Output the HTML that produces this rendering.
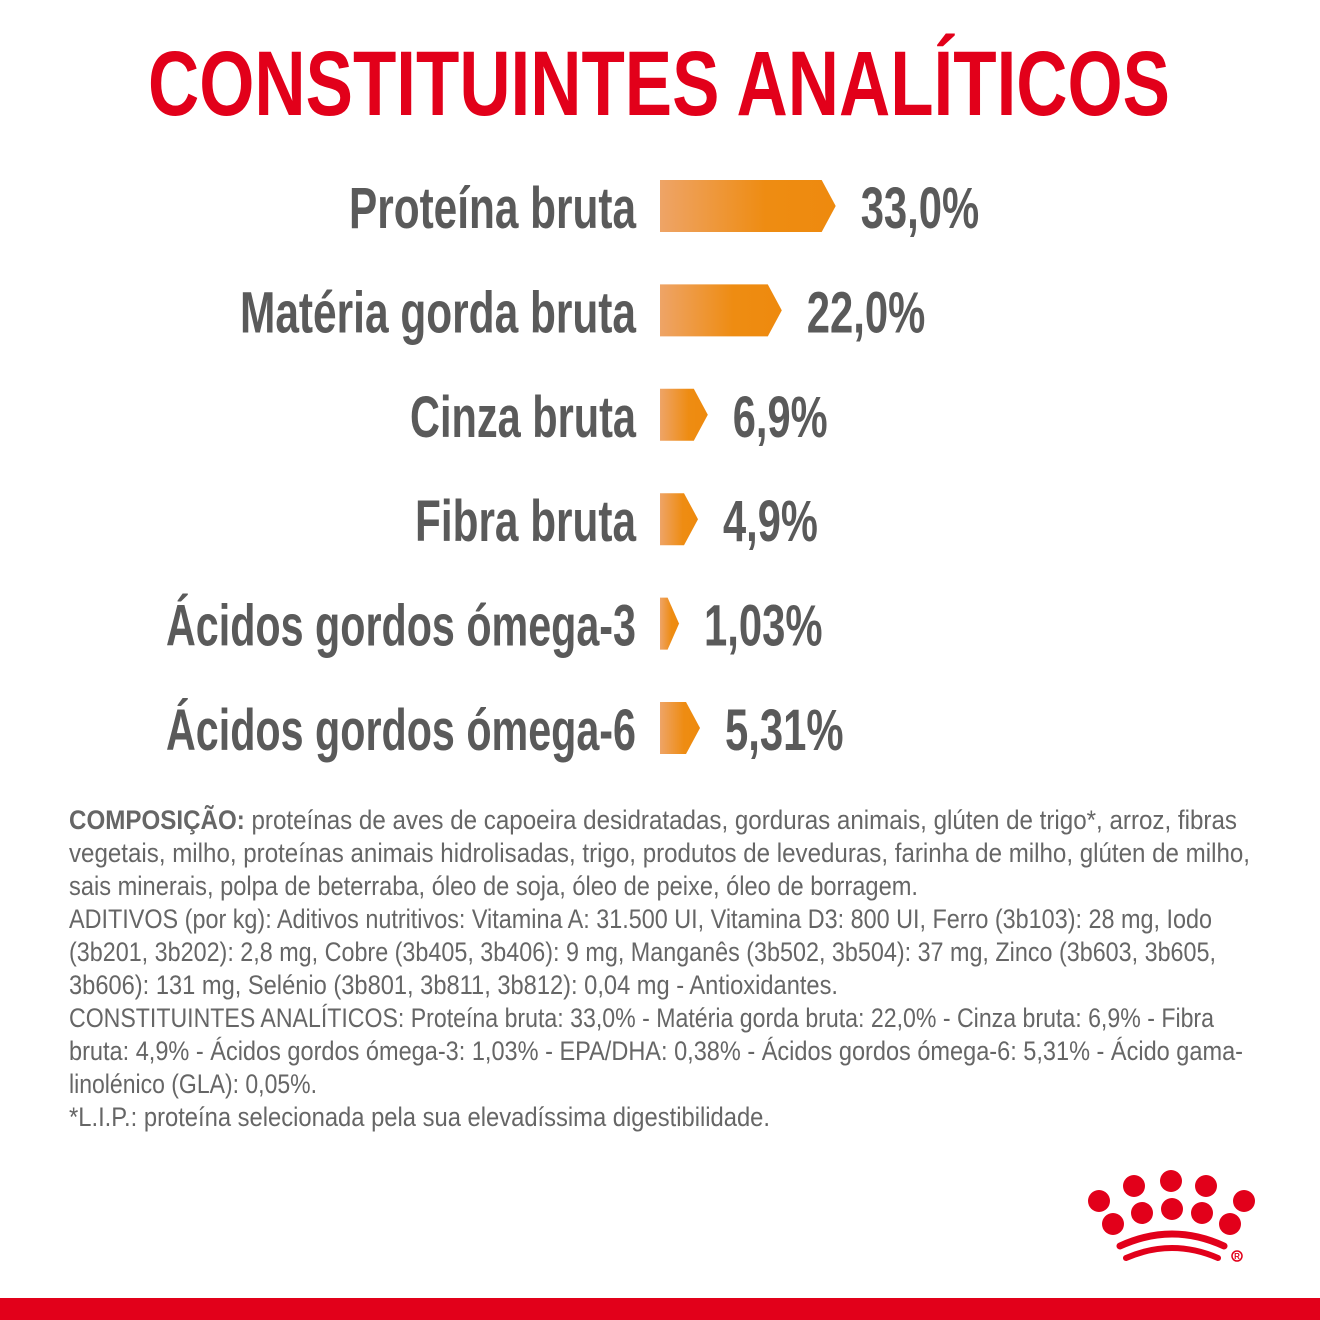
<!DOCTYPE html>
<html><head><meta charset="utf-8"><style>
html,body{margin:0;padding:0;background:#fff;}
svg{display:block;}
</style></head><body>
<svg width="1320" height="1320" viewBox="0 0 1320 1320" xmlns="http://www.w3.org/2000/svg">
<defs>
<linearGradient id="g" x1="0" x2="1" y1="0" y2="0">
<stop offset="0" stop-color="#eea467"/><stop offset="0.6" stop-color="#ee8c12"/><stop offset="1" stop-color="#ee8a0e"/>
</linearGradient>
</defs>
<rect width="1320" height="1320" fill="#fff"/>
<text x="148" y="115" font-family="'Liberation Sans',sans-serif" font-weight="bold" font-size="92" fill="#e2001a" textLength="1022" lengthAdjust="spacingAndGlyphs">CONSTITUINTES ANALÍTICOS</text>
<g id="bars"></g>
<g font-family="'Liberation Sans',sans-serif" font-size="27" fill="#666">
<text x="69" y="829" textLength="1168" lengthAdjust="spacingAndGlyphs"><tspan font-weight="bold">COMPOSIÇÃO:</tspan> proteínas de aves de capoeira desidratadas, gorduras animais, glúten de trigo*, arroz, fibras</text>
<text x="69" y="862" textLength="1181" lengthAdjust="spacingAndGlyphs">vegetais, milho, proteínas animais hidrolisadas, trigo, produtos de leveduras, farinha de milho, glúten de milho,</text>
<text x="69" y="895" textLength="849" lengthAdjust="spacingAndGlyphs">sais minerais, polpa de beterraba, óleo de soja, óleo de peixe, óleo de borragem.</text>
<text x="69" y="928" textLength="1143" lengthAdjust="spacingAndGlyphs">ADITIVOS (por kg): Aditivos nutritivos: Vitamina A: 31.500 UI, Vitamina D3: 800 UI, Ferro (3b103): 28 mg, Iodo</text>
<text x="69" y="961" textLength="1147" lengthAdjust="spacingAndGlyphs">(3b201, 3b202): 2,8 mg, Cobre (3b405, 3b406): 9 mg, Manganês (3b502, 3b504): 37 mg, Zinco (3b603, 3b605,</text>
<text x="69" y="994" textLength="769" lengthAdjust="spacingAndGlyphs">3b606): 131 mg, Selénio (3b801, 3b811, 3b812): 0,04 mg - Antioxidantes.</text>
<text x="69" y="1027" textLength="1145" lengthAdjust="spacingAndGlyphs">CONSTITUINTES ANALÍTICOS: Proteína bruta: 33,0% - Matéria gorda bruta: 22,0% - Cinza bruta: 6,9% - Fibra</text>
<text x="69" y="1060" textLength="1174" lengthAdjust="spacingAndGlyphs">bruta: 4,9% - Ácidos gordos ómega-3: 1,03% - EPA/DHA: 0,38% - Ácidos gordos ómega-6: 5,31% - Ácido gama-</text>
<text x="69" y="1093" textLength="248" lengthAdjust="spacingAndGlyphs">linolénico (GLA): 0,05%.</text>
<text x="69" y="1126" textLength="701" lengthAdjust="spacingAndGlyphs">*L.I.P.: proteína selecionada pela sua elevadíssima digestibilidade.</text>
</g>
<g fill="#e2001a">
<circle cx="1099" cy="1201" r="11"/><circle cx="1134" cy="1186" r="11"/><circle cx="1171" cy="1181" r="11"/><circle cx="1206" cy="1186" r="11"/><circle cx="1244" cy="1201" r="11"/>
<circle cx="1113" cy="1224" r="11"/><circle cx="1142" cy="1213" r="11"/><circle cx="1172" cy="1209" r="11"/><circle cx="1202" cy="1213" r="11"/><circle cx="1230" cy="1224" r="11"/>
<path d="M1120 1246 Q1172 1222 1224 1246" stroke="#e2001a" stroke-width="7" fill="none" stroke-linecap="round"/>
<path d="M1126 1258 Q1172 1238 1218 1258" stroke="#e2001a" stroke-width="6" fill="none" stroke-linecap="round"/>
<circle cx="1237" cy="1256" r="5" fill="none" stroke="#e2001a" stroke-width="1.5"/>
<text x="1237" y="1259" font-size="8" font-family="'Liberation Sans',sans-serif" font-weight="bold" text-anchor="middle">R</text>
</g>
<rect x="0" y="1298" width="1320" height="22" fill="#e2001a"/>
</svg>
<script>
const categories = ["Proteína bruta","Matéria gorda bruta","Cinza bruta","Fibra bruta","Ácidos gordos ómega-3","Ácidos gordos ómega-6"];
const values = [33.0, 22.0, 6.9, 4.9, 1.03, 5.31];
const valueLabels = ["33,0%","22,0%","6,9%","4,9%","1,03%","5,31%"];
// layout (text widths for condensed look)
const labelTextWidths = [287, 396, 226, 221, 470, 470];
const NS="http://www.w3.org/2000/svg";
const g=document.getElementById('bars');
const x0=660, minW=14, k=4.9;
function xScale(v){return x0+minW+k*v;}
function yCenter(i){return 206+i*104.4;}
const font="'Liberation Sans',sans-serif";
categories.forEach((c,i)=>{
  const yc=yCenter(i), h=52, xe=xScale(values[i]), tip=Math.min(14,(xe-x0)*0.6);
  const p=document.createElementNS(NS,'path');
  p.setAttribute('d',`M${x0} ${yc-h/2} L${xe-tip} ${yc-h/2} L${xe} ${yc} L${xe-tip} ${yc+h/2} L${x0} ${yc+h/2} Z`);
  p.setAttribute('fill','url(#g)');
  
  
  g.appendChild(p);
  const lw=labelTextWidths[i];
  const t=document.createElementNS(NS,'text');
  t.setAttribute('x',636-lw);t.setAttribute('y',yc+22);
  t.setAttribute('textLength',lw);t.setAttribute('lengthAdjust','spacingAndGlyphs');
  t.setAttribute('font-family',font);
  t.setAttribute('font-weight','bold');t.setAttribute('font-size','58');t.setAttribute('fill','#5a5a5a');
  t.textContent=c;
  
  
  g.appendChild(t);
  const v=document.createElementNS(NS,'text');
  v.setAttribute('x',xe+25);v.setAttribute('y',yc+22);
  v.setAttribute('textLength',valueLabels[i].length*23.7);v.setAttribute('lengthAdjust','spacingAndGlyphs');
  v.setAttribute('font-family',font);v.setAttribute('font-weight','bold');
  v.setAttribute('font-size','58');v.setAttribute('fill','#5a5a5a');
  v.textContent=valueLabels[i];
  
  
  g.appendChild(v);
});
</script>
</body></html>
